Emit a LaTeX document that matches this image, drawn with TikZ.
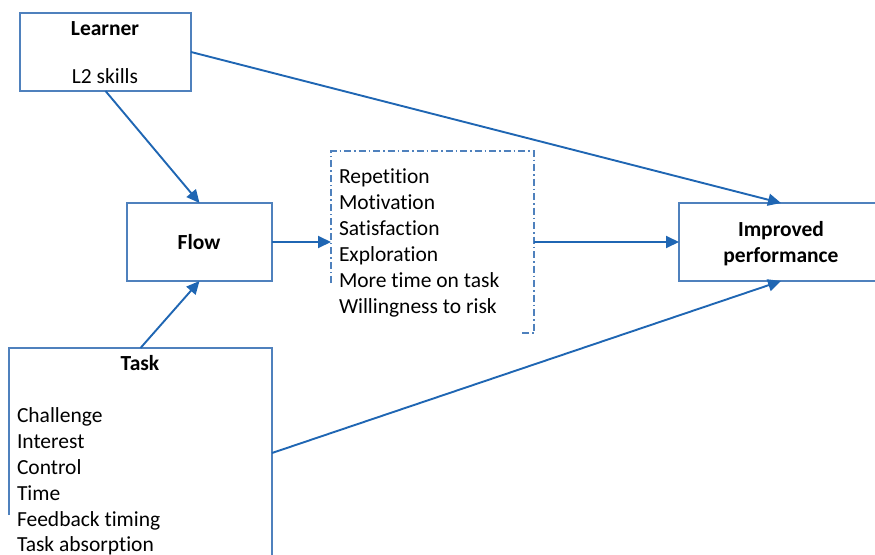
\documentclass[tikz,border=0pt]{standalone}
\usepackage{fontspec}
\setmainfont{Carlito}[Ligatures=NoCommon]
\usetikzlibrary{arrows.meta}
\definecolor{boxblue}{HTML}{4F81BD}
\definecolor{arrowblue}{HTML}{1F66B3}
\begin{document}
\begin{tikzpicture}[x=1pt,y=-1pt,
  every node/.style={inner sep=0pt,outer sep=0pt},
  boxline/.style={draw=boxblue,line width=1.3pt},
  txt/.style={anchor=base,font=\fontsize{21.5}{26}\selectfont},
  ltxt/.style={anchor=base west,font=\fontsize{21.5}{26}\selectfont},
  btxt/.style={anchor=base,font=\fontsize{21.5}{26}\selectfont\bfseries},
  conn/.style={draw=arrowblue,line width=1.9pt,-{Triangle[length=13pt,width=12pt]}},
  dashdot/.style={draw=boxblue,line width=1.3pt,dash pattern=on 7pt off 3pt on 1.5pt off 3pt}
]
\clip (0,0) rectangle (875,554);
% boxes
\node[boxline,rectangle,minimum width=171pt,minimum height=78pt] (learner) at (105.5,52) {};
\node[boxline,rectangle,minimum width=145pt,minimum height=78pt] (flow) at (199.5,242) {};
\node[boxline,rectangle,minimum width=204pt,minimum height=78pt] (improved) at (781,242) {};
\node[rectangle,minimum width=203pt,minimum height=182pt] (effects) at (432.5,242) {};
\node[rectangle,minimum width=263pt,minimum height=210pt] (task) at (140.5,453) {};
% partial borders
\coordinate (effcut) at (331,283);
\coordinate (effbot) at (522,333);
\draw[dashdot] (effcut) -- (effects.north west) -- (effects.north east) -- (effects.south east) -- (effbot);
\coordinate (taskcut) at (9,515);
\draw[boxline] (taskcut) -- (task.north west) -- (task.north east) -- (task.south east);
% texts
\node[btxt] (learnerT) at (105,35) {Learner};
\node[txt] (learnerS) at (105,83) {L2 skills};
\node[btxt] (flowT) at (199,249) {Flow};
\node[btxt] (impT1) at (781,236) {Improved};
\node[btxt] (impT2) at (781,262) {performance};
\node[btxt] (taskT) at (140,370) {Task};
\node[ltxt] (e1) at (339,183) {Repetition};
\node[ltxt] (e2) at (339,209) {Motivation};
\node[ltxt] (e3) at (339,235) {Satisfaction};
\node[ltxt] (e4) at (339,261) {Exploration};
\node[ltxt] (e5) at (339,287) {More time on task};
\node[ltxt] (e6) at (339,313) {Willingness to risk};
\node[ltxt] (t1) at (17,422) {Challenge};
\node[ltxt] (t2) at (17,448) {Interest};
\node[ltxt] (t3) at (17,474) {Control};
\node[ltxt] (t4) at (17,500) {Time};
\node[ltxt] (t5) at (17,526) {Feedback timing};
\node[ltxt] (t6) at (17,551) {Task absorption};
% connectors
\draw[conn] (learner.east) -- (improved.north);
\draw[conn] (learner.south) -- (flow.north);
\draw[conn] (task.north) -- (flow.south);
\draw[conn] (flow.east) -- (effects.west);
\draw[conn] (effects.east) -- (improved.west);
\draw[conn] (task.east) -- (improved.south);
\end{tikzpicture}
\end{document}
